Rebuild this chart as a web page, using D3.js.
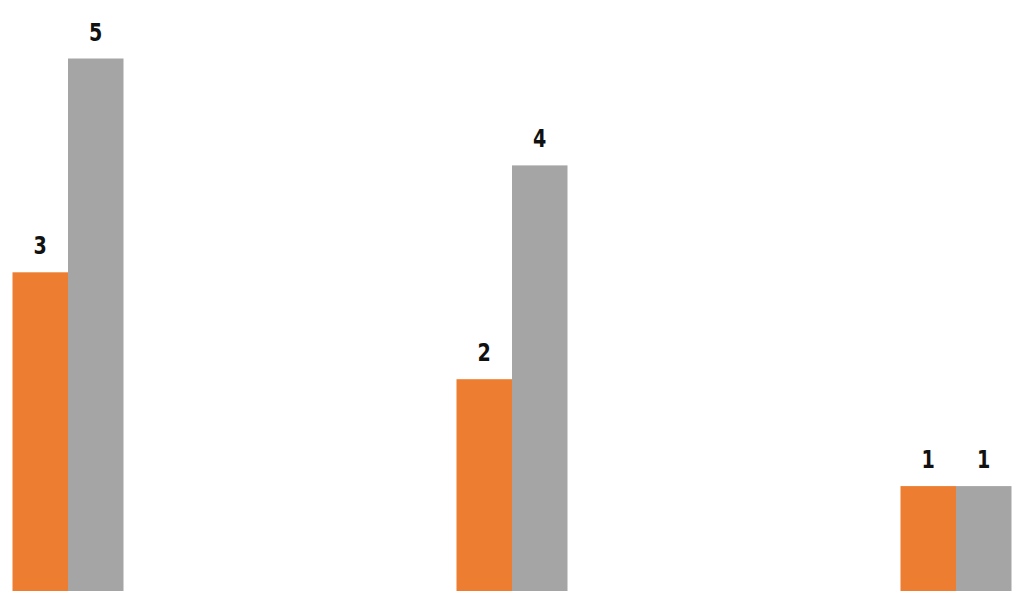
<!DOCTYPE html>
<html>
<head>
<meta charset="utf-8">
<script src="https://cdn.jsdelivr.net/npm/d3@7"></script>
<style>
  html, body { margin: 0; padding: 0; background: #fff; overflow: hidden; }
</style>
</head>
<body>
<script>
// chart data
var categories = ["A", "B", "C"];
var seriesNames = ["Series 1", "Series 2"];
var series1 = [3, 2, 1];
var series2 = [5, 4, 1];

var width = 1013, height = 591;
var colors = ["#ED7D31", "#A5A5A5"];

var svg = d3.select("body").append("svg")
    .attr("width", width)
    .attr("height", height);

var x0 = d3.scaleBand()
    .domain(categories)
    .range([12.5, 1011.5])
    .paddingInner(0.75)
    .paddingOuter(0);

var x1 = d3.scaleBand()
    .domain(seriesNames)
    .range([0, x0.bandwidth()]);

var y = d3.scaleLinear()
    .domain([0, 5])
    .range([593, 58.5]);

var rows = categories.map(function(c, i) {
    return { cat: c, values: [
        { name: seriesNames[0], value: series1[i] },
        { name: seriesNames[1], value: series2[i] }
    ]};
});

var group = svg.selectAll(".group")
    .data(rows)
    .enter()
    .append("g")
    .attr("class", "group")
    .attr("transform", function(d) { return "translate(" + x0(d.cat) + ",0)"; });

group.selectAll("rect")
    .data(function(d) { return d.values; })
    .enter()
    .append("rect")
    .attr("x", function(d) { return x1(d.name); })
    .attr("y", function(d) { return y(d.value); })
    .attr("width", x1.bandwidth())
    .attr("height", function(d) { return y(0) - y(d.value); })
    .attr("fill", function(d, i) { return colors[i]; });

// value labels, squeezed a bit to look like a condensed face
group.selectAll("text")
    .data(function(d) { return d.values; })
    .enter()
    .append("text")
    .attr("transform", function(d) {
        return "translate(" + (x1(d.name) + x1.bandwidth() / 2) + "," + (y(d.value) - 18) + ") scale(0.85,1)";
    })
    .attr("text-anchor", "middle")
    .attr("font-family", "'DejaVu Sans Condensed', 'DejaVu Sans', sans-serif")
    .attr("font-weight", "bold")
    .attr("font-size", 25)
    .attr("fill", "#111")
    .text(function(d) { return d.value; });
</script>
</body>
</html>
